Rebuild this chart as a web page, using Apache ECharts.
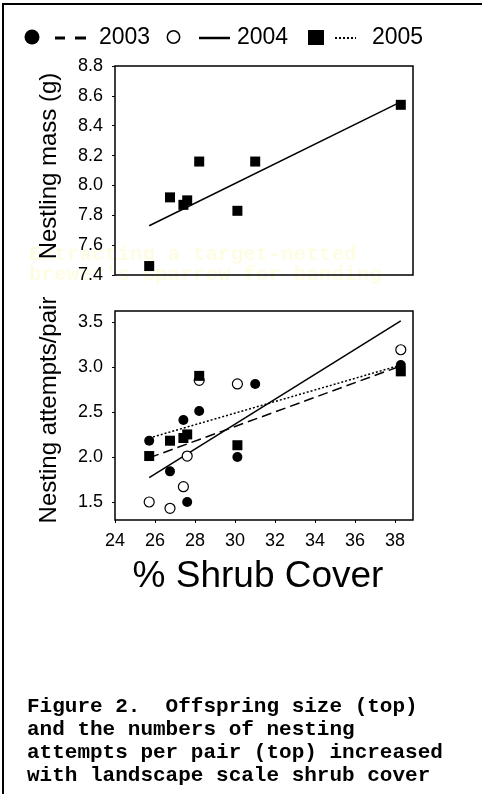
<!DOCTYPE html>
<html><head><meta charset="utf-8">
<script src="https://cdn.jsdelivr.net/npm/echarts@6/dist/echarts.min.js"></script>
<style>html,body{margin:0;padding:0;background:#fff}#c{width:482px;height:794px}</style>
</head><body><div id="c"></div><script>
// ---- data ----
const sites = [25.71, 26.75, 27.42, 27.61, 28.21, 30.12, 31.01, 38.29];
const sites7 = [25.71, 26.75, 27.42, 27.61, 28.21, 30.12, 38.29];
const nestlingMass = [7.46, 7.92, 7.87, 7.90, 8.16, 7.83, 8.16, 8.54];
const massFitX = [25.71, 38.29];
const massFitY = [7.73, 8.56];
const attempts2003 = [2.18, 1.84, 2.41, 1.50, 2.51, 2.00, 2.81, 3.02];
const attempts2004 = [1.50, 1.43, 1.67, 2.01, 2.85, 2.81, 3.19];
const attempts2005 = [2.01, 2.18, 2.21, 2.25, 2.90, 2.13, 2.95];
const fitX = [25.71, 38.29];
const fit2003 = [1.99, 3.01];
const fit2004 = [1.77, 3.51];
const fit2005 = [2.21, 3.02];
const xTicks = [24, 26, 28, 30, 32, 34, 36, 38];
const massTicks = [7.4, 7.6, 7.8, 8.0, 8.2, 8.4, 8.6, 8.8];
const attemptTicks = [1.5, 2.0, 2.5, 3.0, 3.5];
const legendYears = ['2003', '2004', '2005'];
const captionLines = [
  'Figure 2.  Offspring size (top)',
  'and the numbers of nesting',
  'attempts per pair (top) increased',
  'with landscape scale shrub cover'
];
const watermarkLines = ['Extracting a target-netted', "brewer's sparrow for banding"];

const zip = (xs, ys) => xs.map((x, i) => [x, ys[i]]);
const SANS = "'Liberation Sans', Arial, Helvetica, sans-serif";
const MONO = "'Liberation Mono', 'Courier New', monospace";

const chart = echarts.init(document.getElementById('c'), null, {renderer: 'canvas'});

const gridCommon = {left: 115, width: 298, height: 209, show: true, borderColor: '#000', borderWidth: 1.5, backgroundColor: 'transparent'};
const xAxisCommon = {
  type: 'value', min: 24, max: 38.9,
  axisLine: {show: false}, splitLine: {show: false}
};
const yAxisCommon = {
  type: 'value',
  axisLine: {show: false}, splitLine: {show: false},
  axisTick: {show: true, length: 3, lineStyle: {color: '#000', width: 1}},
  axisLabel: {color: '#000', fontFamily: SANS, fontSize: 18, margin: 12, formatter: v => v.toFixed(1)}
};

const option = {
  animation: false,
  backgroundColor: '#fff',
  grid: [
    Object.assign({top: 66}, gridCommon),
    Object.assign({top: 311}, gridCommon)
  ],
  xAxis: [
    Object.assign({gridIndex: 0, axisTick: {show: false}, axisLabel: {show: false}}, xAxisCommon),
    Object.assign({gridIndex: 1,
      axisTick: {show: true, length: 3, customValues: xTicks, lineStyle: {color: '#000'}},
      axisLabel: {show: true, customValues: xTicks, color: '#000', fontFamily: SANS, fontSize: 18, margin: 12}
    }, xAxisCommon)
  ],
  yAxis: [
    Object.assign({}, yAxisCommon, {gridIndex: 0, min: 7.4, max: 8.8,
      axisTick: Object.assign({}, yAxisCommon.axisTick, {customValues: massTicks}),
      axisLabel: Object.assign({}, yAxisCommon.axisLabel, {customValues: massTicks})}),
    Object.assign({}, yAxisCommon, {gridIndex: 1, min: 1.3, max: 3.62,
      axisTick: Object.assign({}, yAxisCommon.axisTick, {customValues: attemptTicks}),
      axisLabel: Object.assign({}, yAxisCommon.axisLabel, {customValues: attemptTicks})})
  ],
  series: [
    {type: 'line', xAxisIndex: 0, yAxisIndex: 0, data: zip(massFitX, massFitY), showSymbol: false, symbol: 'none',
     lineStyle: {color: '#000', width: 1.5}, z: 2},
    {type: 'scatter', xAxisIndex: 0, yAxisIndex: 0, data: zip(sites, nestlingMass), symbol: 'rect', symbolSize: 10,
     itemStyle: {color: '#000', opacity: 1}, z: 3},
    {type: 'line', xAxisIndex: 1, yAxisIndex: 1, data: zip(fitX, fit2003), symbol: 'none',
     lineStyle: {color: '#000', width: 1.5, type: [10, 5]}, z: 2},
    {type: 'line', xAxisIndex: 1, yAxisIndex: 1, data: zip(fitX, fit2004), symbol: 'none',
     lineStyle: {color: '#000', width: 1.5, type: 'solid'}, z: 2},
    {type: 'line', xAxisIndex: 1, yAxisIndex: 1, data: zip(fitX, fit2005), symbol: 'none',
     lineStyle: {color: '#000', width: 1.5, type: [2, 2]}, z: 2},
    {type: 'scatter', xAxisIndex: 1, yAxisIndex: 1, data: zip(sites7, attempts2004), symbol: 'circle', symbolSize: 10,
     itemStyle: {color: '#fff', borderColor: '#000', borderWidth: 1.2, opacity: 1}, z: 3},
    {type: 'scatter', xAxisIndex: 1, yAxisIndex: 1, data: zip(sites7, attempts2005), symbol: 'rect', symbolSize: 10,
     itemStyle: {color: '#000', opacity: 1}, z: 4},
    {type: 'scatter', xAxisIndex: 1, yAxisIndex: 1, data: zip(sites, attempts2003), symbol: 'circle', symbolSize: 10,
     itemStyle: {color: '#000', opacity: 1}, z: 5}
  ],
  graphic: {elements: [
    // frame
    {type: 'line', shape: {x1: 3, y1: 3, x2: 3, y2: 794}, style: {stroke: '#000', lineWidth: 2}},
    {type: 'line', shape: {x1: 3, y1: 4, x2: 482, y2: 4}, style: {stroke: '#000', lineWidth: 2}},
    // legend
    {type: 'circle', shape: {cx: 32, cy: 37, r: 7.5}, style: {fill: '#000'}},
    {type: 'line', shape: {x1: 55, y1: 38, x2: 65, y2: 38}, style: {stroke: '#000', lineWidth: 3}},
    {type: 'line', shape: {x1: 75, y1: 38, x2: 86, y2: 38}, style: {stroke: '#000', lineWidth: 3}},
    {type: 'text', x: 99, y: 38, style: {text: legendYears[0], font: '23px ' + SANS, fill: '#000', textVerticalAlign: 'middle'}},
    {type: 'circle', shape: {cx: 173.5, cy: 37, r: 6.2}, style: {fill: '#fff', stroke: '#000', lineWidth: 1.5}},
    {type: 'line', shape: {x1: 199, y1: 38, x2: 230, y2: 38}, style: {stroke: '#000', lineWidth: 2.5}},
    {type: 'text', x: 237, y: 38, style: {text: legendYears[1], font: '23px ' + SANS, fill: '#000', textVerticalAlign: 'middle'}},
    {type: 'rect', shape: {x: 308, y: 30, width: 16, height: 15}, style: {fill: '#000'}},
    {type: 'line', shape: {x1: 335, y1: 38, x2: 356, y2: 38}, style: {stroke: '#000', lineWidth: 1.8, lineDash: [2, 2]}},
    {type: 'text', x: 372, y: 38, style: {text: legendYears[2], font: '23px ' + SANS, fill: '#000', textVerticalAlign: 'middle'}},
    // axis titles
    {type: 'text', x: 49, y: 166, rotation: Math.PI / 2,
     style: {text: 'Nestling mass (g)', font: '24px ' + SANS, fill: '#000', textAlign: 'center', textVerticalAlign: 'middle'}},
    {type: 'text', x: 49, y: 410, rotation: Math.PI / 2,
     style: {text: 'Nesting attempts/pair', font: '24px ' + SANS, fill: '#000', textAlign: 'center', textVerticalAlign: 'middle'}},
    {type: 'text', x: 258, y: 577,
     style: {text: '% Shrub Cover', font: '37px ' + SANS, fill: '#000', textAlign: 'center', textVerticalAlign: 'middle'}},
    // watermark
    {type: 'text', x: 29, y: 255, z: -1,
     style: {text: watermarkLines[0], font: 'bold 21px ' + MONO, fill: '#fefde4', textVerticalAlign: 'middle'}},
    {type: 'text', x: 29, y: 275, z: -1,
     style: {text: watermarkLines[1], font: 'bold 21px ' + MONO, fill: '#fefde4', textVerticalAlign: 'middle'}},
    // caption
    ...captionLines.map((t, i) => ({type: 'text', x: 27, y: 707 + i * 23,
      style: {text: t, font: 'bold 21px ' + MONO, fill: '#000', textVerticalAlign: 'middle'}}))
  ]}
};
chart.setOption(option);
</script></body></html>
